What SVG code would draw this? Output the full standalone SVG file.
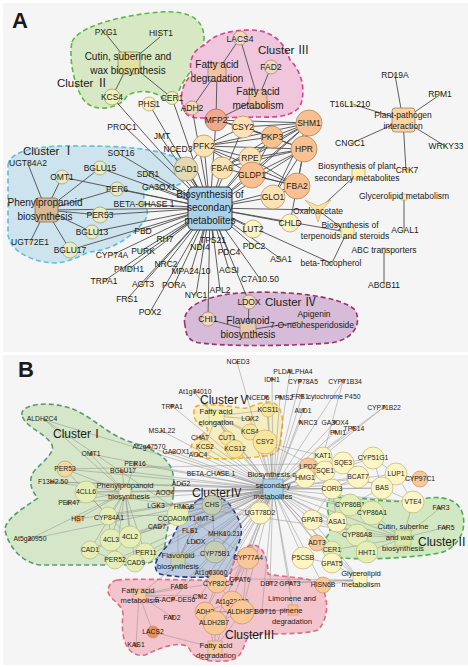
<svg xmlns="http://www.w3.org/2000/svg" width="468" height="667" viewBox="0 0 468 667">
<style>
text{font-family:"Liberation Sans",Arial,sans-serif;fill:#1a1a1a}
.a{font-size:8.5px;text-anchor:middle}
.ap{font-size:10px;text-anchor:middle}
.b{font-size:6.8px;text-anchor:middle}
.bp{font-size:7.6px;text-anchor:middle}
.cl{font-size:11.5px}
.cb{font-size:12px}
.rn{font-family:"Noto Sans CJK SC","Liberation Serif",serif}
.pl{font-size:22px;font-weight:bold}
.ea{stroke:#4d4d4d;stroke-width:.9;fill:none}
.eb{stroke:#8e8e8e;stroke-width:.5;fill:none}
.ny{fill:#f1f0b9;stroke:#9a9a66;stroke-width:.7}
.nly{fill:#fff3c2;stroke:#a89e60;stroke-width:.7}
.np{fill:#fde2b3;stroke:#a88f5e;stroke-width:.7}
.no{fill:#f8c18f;stroke:#a87e50;stroke-width:.7}
.nm{fill:#f0a98e;stroke:#a06a50;stroke-width:.7}
.nt{fill:#e3d9b2;stroke:#9a9070;stroke-width:.7}
.ns{fill:#f6d7bd;stroke:#a08060;stroke-width:.7}
.nb{fill:#e8ebc3;stroke:#9a9a70;stroke-width:.7}
.d{fill:#e8d24a}
.by{fill:#fdf5c4;stroke:#b4a866;stroke-width:.6}
.bg{fill:#e5eeb6;stroke:#a8b478;stroke-width:.6}
.bo{fill:#f8c899;stroke:#c08a58;stroke-width:.6}
.bk{fill:#f6e6a0;stroke:#c8a450;stroke-width:.6}
.bv{fill:#c6cdb5;stroke:#8a9078;stroke-width:.6}
.do{fill:#d9702e}
.dash{stroke-width:1.6;stroke-dasharray:5 3}
</style>
<rect x="3" y="3" width="465" height="349" fill="#f5f5f5"/>
<rect x="3" y="355" width="465" height="310" fill="#f5f5f5"/>
<g id="clusters-a">
<path class="dash" fill="#d7e8c5" stroke="#5fb848" d="M72,42 C78,28 110,18 150,13 C180,9 204,14 204,38 C204,58 188,72 180,88 C176,100 168,104 160,96 C150,90 135,90 127,96 C120,108 100,112 88,104 C76,96 68,60 72,42 Z"/>
<path class="dash" fill="#f0c6dc" stroke="#e0408c" d="M185,112 C178,100 182,82 192,75 C188,62 192,50 205,45 C212,35 230,30 250,30 C275,30 285,45 290,60 C300,70 305,85 302,100 C300,115 280,118 260,117 L200,118 C192,118 187,116 185,112 Z"/>
<path class="dash" fill="#cde3ee" stroke="#5bc0de" d="M8,165 C10,150 40,145 80,146 C120,146 160,148 180,160 C190,168 188,180 178,185 C165,188 150,182 145,192 C140,200 152,210 145,220 C130,240 110,250 90,252 C80,255 72,262 55,263 C30,262 10,250 8,235 Z"/>
<path class="dash" fill="#d6bcd8" stroke="#a0306e" d="M185,325 C180,305 210,295 240,293 C280,290 340,295 355,310 C362,322 355,340 330,343 C290,346 220,347 195,342 C186,338 186,332 185,325 Z"/>
</g>
<g id="clusters-b">
<path class="dash" fill="#d6e6c8" stroke="#5a9a78" d="M22,415 C20,405 45,400 70,408 C90,415 105,432 125,440 C145,447 165,452 172,470 C178,490 168,520 165,545 C162,560 150,565 130,565 L40,565 C20,562 8,545 5,530 C5,520 20,510 38,498 C30,490 28,478 35,470 C45,460 55,452 52,445 C45,432 25,428 22,415 Z"/>
<path class="dash" fill="#f6edc0" stroke="#f0b030" d="M195,407 C200,403 225,405 240,408 C250,410 255,402 270,402 C280,403 284,415 282,430 C280,445 282,455 265,456 C250,458 220,460 205,458 C190,455 188,447 195,440 C205,432 212,430 205,427 C195,425 192,415 195,407 Z"/>
<path class="dash" fill="#bccbe0" stroke="#1f3a8a" d="M198,500 C210,493 225,496 232,508 C240,520 245,530 238,545 C233,555 236,570 228,576 C210,578 175,578 160,574 C150,568 158,555 168,545 C175,535 180,515 198,500 Z"/>
<path class="dash" fill="#f4c4cc" stroke="#e06a88" d="M117,580 C140,578 200,581 230,580 C231,562 240,546 253,545 C264,546 268,560 268,574 C285,578 310,576 320,585 C330,598 328,620 318,630 C300,636 265,632 248,636 C242,650 242,660 225,661 C210,662 195,660 190,650 C186,640 165,645 145,655 C128,658 120,640 123,615 C124,605 110,600 108,592 C108,585 112,581 117,580 Z"/>
<path class="dash" fill="#d2e8c2" stroke="#4cb04c" d="M330,498 C360,495 390,505 415,500 C435,496 455,495 462,512 C468,530 458,548 440,553 C410,558 370,560 340,558 C325,556 320,545 328,535 C335,525 322,505 330,498 Z"/>
</g>
<g id="connectors">
<path class="ea" d="M210 208L149 104M210 208L172 98M210 208L112 97M210 208L192 108M210 208L125 127M210 208L160 136M210 208L175 149M210 208L118 153M210 208L146 174M210 208L158 187M210 208L140 204M210 208L143 231M210 208L165 239M210 208L141 251M210 208L112 255M210 208L129 269M210 208L104 281M210 208L143 284M210 208L127 299M210 208L150 312M210 208L166 264M210 208L174 285M210 208L191 271M210 208L196 295M210 208L220 290M210 208L229 270M210 208L229 252M210 208L200 247M210 208L213 240M210 208L254 246M210 208L281 259M210 208L260 279M210 208L249 302M210 208L208 319M210 208L253 229M210 208L290 223M210 208L273 197M210 208L297 186M210 208L252 175M210 208L250 158M210 208L222 168M210 208L186 169M210 208L204 146M210 208L243 127M210 208L272 137M210 208L309 123M210 208L304 149M210 208L216 120M210 208L318 210M210 208L347 232M210 208L331 263M210 208L46 210M210 208L62 177M210 208L100 168M210 208L117 189M210 208L100 215M210 208L92 232M210 208L70 250"/>
<path class="ea" d="M129 63L106 34M129 63L160 37M129 63L112 97M129 63L172 98M240 38L217 72M240 38L258 99M271 67L258 99M217 72L192 108M217 72L216 120M258 99L216 120M46 210L28 164M46 210L30 242M46 210L62 177M46 210L100 168M46 210L117 189M46 210L100 215M46 210L92 232M46 210L70 250M249 302L248 330M208 319L248 330M248 330L300 322"/>
<path class="ea" d="M204 146L243 127M204 146L272 137M204 146L309 123M204 146L250 158M204 146L252 175M204 146L297 186M204 146L304 149M243 127L309 123M243 127L272 137M243 127L304 149M272 137L309 123M272 137L304 149M272 137L252 175M309 123L304 149M309 123L252 175M309 123L297 186M304 149L252 175M304 149L297 186M304 149L250 158M250 158L297 186M250 158L309 123M252 175L297 186M273 197L304 149M273 197L309 123M273 197L297 186M222 168L309 123M222 168L304 149M222 168L272 137M222 168L297 186M216 120L272 137M216 120L243 127M216 120L309 123M186 169L204 146M290 223L297 186"/>
<path class="ea" d="M403 120L395 75M403 120L441 94M403 120L352 104M403 120L352 143M403 120L445 146M403 120L406 170M358 173L318 210M318 210L347 232M347 232L332 263M404 197L404 230M384 251L384 285"/>
<path class="eb" d="M273 489L216 416M273 489L268 410M273 489L250 419M273 489L250 432M273 489L265 442M273 489L227 438M273 489L235 449M273 489L205 447M273 489L200 437M273 489L195 393M273 489L198 455M273 489L237 362M273 489L290 371M273 489L272 379M273 489L300 381M273 489L343 381M273 489L266 397M273 489L280 397M273 489L302 396M273 489L303 410M273 489L300 422M273 489L335 422M273 489L335 432M273 489L353 428M273 489L384 407M273 489L172 406M273 489L162 431M273 489L149 447M273 489L173 452M273 489L45 420M273 489L91 454M273 489L65 469M273 489L135 464M273 489L122 471M273 489L52 482M273 489L86 492M273 489L125 492M273 489L68 503M273 489L78 519M273 489L108 516M273 489L30 539M273 489L111 540M273 489L130 537M273 489L90 550M273 489L145 553M273 489L115 560M273 489L135 563M273 489L220 473M273 489L182 484M273 489L170 492M273 489L158 506M273 489L184 507M273 489L178 515M273 489L198 519M273 489L160 527M273 489L212 505M273 489L192 531M273 489L224 534M273 489L196 542M273 489L215 552M273 489L178 560M273 489L210 572M273 489L248 558M273 489L181 586M273 489L217 583M273 489L236 579M273 489L270 583M273 489L290 583M273 489L173 599M273 489L200 596M273 489L139 595M273 489L205 612M273 489L232 602M273 489L215 623M273 489L242 612M273 489L262 611M273 489L293 610M273 489L323 456M273 489L308 467M273 489L305 478M273 489L325 471M273 489L343 463M273 489L373 458M273 489L358 477M273 489L396 474M273 489L420 479M273 489L382 488M273 489L332 489M273 489L413 502M273 489L350 505M273 489L372 513M273 489L357 535M273 489L337 522M273 489L312 520M273 489L317 543M273 489L332 550M273 489L367 552M273 489L403 538M273 489L332 563M273 489L360 580M273 489L323 585M273 489L303 558M273 489L260 513"/>
<path class="eb" d="M125 492L45 420M125 492L91 454M125 492L65 469M125 492L135 464M125 492L122 471M125 492L52 482M125 492L86 492M125 492L68 503M125 492L78 519M125 492L108 516M125 492L30 539M125 492L111 540M125 492L130 537M125 492L90 550M125 492L145 553M125 492L115 560M125 492L135 563M216 416L268 410M216 416L250 432M216 416L265 442M216 416L227 438M216 416L235 449M216 416L205 447M216 416L250 419M216 416L195 393M178 560L212 505M178 560L178 515M178 560L215 552M178 560L192 531M178 560L196 542M178 560L198 519M178 560L224 534M178 560L210 572M139 595L181 586M139 595L173 599M139 595L172 617M139 595L153 632M139 595L136 645M139 595L200 596M139 595L217 583M215 648L205 612M215 648L215 623M215 648L242 612M215 648L232 602M215 648L153 632M293 610L262 611M293 610L242 612M293 610L205 612M403 538L350 505M403 538L372 513M403 538L357 535M403 538L367 552M403 538L332 550M403 538L440 508M403 538L446 527M403 538L337 522M403 538L413 502M360 580L332 563M360 580L323 585M360 580L312 520M360 580L236 579M360 580L290 583M360 580L270 583M360 580L317 543"/>
<path class="eb" d="M323 456L325 471M325 471L343 463M343 463L373 458M373 458L396 474M396 474L382 488M382 488L358 477M358 477L343 463M382 488L373 458M325 471L305 478M305 478L308 467M308 467L323 456M332 489L325 471M332 489L382 488M332 489L358 477M396 474L420 479M413 502L396 474M413 502L382 488M350 505L382 488M372 513L396 474M350 505L332 489M337 522L332 489M312 520L332 489M312 520L337 522M337 522L357 535M332 550L332 563M317 543L332 563M303 558L332 563M260 513L212 505M265 442L323 456M265 442L325 471M384 407L323 456M343 381L323 456M248 558L217 583M217 583L205 612M205 612L215 623M215 623L242 612M242 612L232 602M232 602L217 583M205 612L242 612M205 612L232 602M248 558L236 579M248 558L242 612M111 540L130 537M111 540L90 550M130 537L145 553M115 560L135 563M135 563L145 553M108 516L111 540M108 516L130 537M86 492L108 516M65 469L108 516M90 550L115 560M178 515L130 537M178 515L108 516M178 515L212 505M212 505L215 552M65 469L343 463M52 482L332 489M86 492L403 538M45 420L248 558"/>
</g>
<text class="pl" x="12" y="28">A</text>
<text class="pl" x="18" y="377">B</text>
<g id="a-cluster-labels">
<text class="cl" x="57" y="87">Cluster <tspan class="rn">Ⅱ</tspan></text>
<text class="cl" x="258" y="54">Cluster <tspan class="rn">Ⅲ</tspan></text>
<text class="cl" x="23" y="155">Cluster <tspan class="rn">Ⅰ</tspan></text>
<text class="cl" x="265" y="306">Cluster <tspan class="rn">Ⅳ</tspan></text>
</g>
<g id="a-cutin"><rect x="118" y="52" width="22" height="22" rx="3" fill="#e3e1a1" stroke="#8a8a60" stroke-width=".8"/><text class="ap" x="128" y="60">Cutin, suberine and</text><text class="ap" x="128" y="74">wax biosynthesis</text></g>
<g id="a-pxg1"><circle class="d" cx="106" cy="32" r="1.8"/><text class="a" x="106" y="35">PXG1</text></g>
<g id="a-hist1"><circle class="d" cx="160" cy="33" r="1.8"/><text class="a" x="161" y="36">HIST1</text></g>
<g id="a-kcs4"><circle class="ny" cx="112" cy="97" r="8"/><text class="a" x="112" y="100">KCS4</text></g>
<g id="a-cer1"><circle class="ny" cx="172" cy="98" r="6.5"/><text class="a" x="172" y="101">CER1</text></g>
<g id="a-phs1"><circle class="nly" cx="149" cy="104" r="7"/><text class="a" x="149" y="107">PHS1</text></g>
<g id="a-fadeg"><rect x="208" y="63" width="18" height="18" rx="3" fill="#f3c4a4" stroke="#a0806a" stroke-width=".8"/><text class="ap" x="217" y="68">Fatty acid</text><text class="ap" x="217" y="82">degradation</text></g>
<g id="a-fameta"><rect x="249" y="90" width="18" height="18" rx="3" fill="#f3c4a4" stroke="#a0806a" stroke-width=".8"/><text class="ap" x="258" y="95">Fatty acid</text><text class="ap" x="258" y="109">metabolism</text></g>
<g id="a-lacs4"><circle class="ns" cx="240" cy="38" r="7"/><text class="a" x="240" y="42">LACS4</text></g>
<g id="a-fad2"><circle class="ns" cx="271" cy="67" r="7"/><text class="a" x="271" y="70">FAD2</text></g>
<g id="a-adh2"><circle class="ns" cx="192" cy="108" r="7"/><text class="a" x="192" y="111">ADH2</text></g>
<g id="a-mfp2"><circle class="nm" cx="216" cy="120" r="11"/><text class="a" x="216" y="123">MFP2</text></g>
<g id="a-csy2"><circle class="np" cx="243" cy="127" r="11"/><text class="a" x="243" y="130">CSY2</text></g>
<g id="a-pkp3"><circle class="no" cx="272" cy="137" r="11"/><text class="a" x="272" y="140">PKP3</text></g>
<g id="a-shm1"><circle class="no" cx="309" cy="123" r="13"/><text class="a" x="309" y="126">SHM1</text></g>
<g id="a-hpr"><circle class="no" cx="304" cy="149" r="13"/><text class="a" x="304" y="152">HPR</text></g>
<g id="a-pfk2"><circle class="np" cx="204" cy="146" r="11"/><text class="a" x="204" y="149">PFK2</text></g>
<g id="a-cad1"><circle class="nt" cx="186" cy="169" r="12"/><text class="a" x="186" y="172">CAD1</text></g>
<g id="a-fba6"><circle class="np" cx="222" cy="168" r="11"/><text class="a" x="222" y="171">FBA6</text></g>
<g id="a-rpe"><circle class="np" cx="250" cy="158" r="11"/><text class="a" x="250" y="161">RPE</text></g>
<g id="a-gldp1"><circle class="no" cx="252" cy="175" r="13"/><text class="a" x="252" y="178">GLDP1</text></g>
<g id="a-fba2"><circle class="no" cx="297" cy="186" r="13"/><text class="a" x="297" y="189">FBA2</text></g>
<g id="a-glo1"><circle class="np" cx="273" cy="197" r="12"/><text class="a" x="273" y="200">GLO1</text></g>
<g id="a-chld"><circle class="nly" cx="290" cy="223" r="9"/><text class="a" x="290" y="226">CHLD</text></g>
<g id="a-lut2"><circle class="nly" cx="253" cy="229" r="9"/><text class="a" x="253" y="232">LUT2</text></g>
<g id="a-hub"><rect x="188" y="187" width="44" height="43" rx="5" fill="#a9d1ea" stroke="#333" stroke-width="1"/><text class="ap" x="210" y="198">Biosynthesis of</text><text class="ap" x="210" y="211">secondary</text><text class="ap" x="210" y="224">metabolites</text></g>
<g id="a-pp"><rect x="35" y="198" width="23" height="24" rx="3" fill="#d9b994" stroke="#8a7050" stroke-width=".8"/><text class="ap" x="45" y="206">Phenylpropanoid</text><text class="ap" x="45" y="220">biosynthesis</text></g>
<g id="a-ugt84a2"><circle class="d" cx="28" cy="163" r="1.8"/><text class="a" x="28" y="166">UGT84A2</text></g>
<g id="a-ugt72e1"><circle class="d" cx="30" cy="242" r="1.8"/><text class="a" x="30" y="245">UGT72E1</text></g>
<g id="a-omt1"><circle class="nb" cx="62" cy="177" r="7"/><text class="a" x="62" y="180">OMT1</text></g>
<g id="a-bglu15"><circle class="nb" cx="100" cy="168" r="7"/><text class="a" x="100" y="171">BGLU15</text></g>
<g id="a-per6"><circle class="nb" cx="117" cy="189" r="7"/><text class="a" x="117" y="192">PER6</text></g>
<g id="a-per53"><circle class="nb" cx="100" cy="215" r="8"/><text class="a" x="100" y="218">PER53</text></g>
<g id="a-bglu13"><circle class="nb" cx="92" cy="232" r="7"/><text class="a" x="92" y="235">BGLU13</text></g>
<g id="a-bglu17"><circle class="nb" cx="70" cy="250" r="8"/><text class="a" x="70" y="253">BGLU17</text></g>
<g id="a-genes">
<circle class="d" cx="125" cy="127" r="1.8"/><text class="a" x="122" y="130">PROC1</text>
<circle class="d" cx="160" cy="136" r="1.8"/><text class="a" x="162" y="139">JMT</text>
<circle class="d" cx="175" cy="149" r="1.8"/><text class="a" x="178" y="152">NCED3</text>
<circle class="d" cx="118" cy="153" r="1.8"/><text class="a" x="121" y="156">SOT16</text>
<circle class="d" cx="146" cy="174" r="1.8"/><text class="a" x="148" y="177">SDR1</text>
<circle class="d" cx="158" cy="187" r="1.8"/><text class="a" x="159" y="190">GA3OX1</text>
<circle class="d" cx="140" cy="204" r="1.8"/><text class="a" x="144" y="207">BETA-CHASE 1</text>
<circle class="d" cx="143" cy="231" r="1.8"/><text class="a" x="143" y="234">PBD</text>
<circle class="d" cx="165" cy="239" r="1.8"/><text class="a" x="165" y="242">RH7</text>
<circle class="d" cx="141" cy="251" r="1.8"/><text class="a" x="143" y="254">PURK</text>
<circle class="d" cx="112" cy="255" r="1.8"/><text class="a" x="112" y="258">CYP74A</text>
<circle class="d" cx="129" cy="269" r="1.8"/><text class="a" x="129" y="272">PMDH1</text>
<circle class="d" cx="104" cy="281" r="1.8"/><text class="a" x="104" y="284">TRPA1</text>
<circle class="d" cx="143" cy="284" r="1.8"/><text class="a" x="143" y="287">AGT3</text>
<circle class="d" cx="127" cy="299" r="1.8"/><text class="a" x="127" y="302">FRS1</text>
<circle class="d" cx="150" cy="312" r="1.8"/><text class="a" x="150" y="315">POX2</text>
<circle class="d" cx="166" cy="264" r="1.8"/><text class="a" x="166" y="267">NRC2</text>
<circle class="d" cx="174" cy="285" r="1.8"/><text class="a" x="174" y="288">PORA</text>
<circle class="d" cx="191" cy="271" r="1.8"/><text class="a" x="191" y="274">MPA24.10</text>
<circle class="d" cx="196" cy="295" r="1.8"/><text class="a" x="196" y="298">NYC1</text>
<circle class="d" cx="220" cy="290" r="1.8"/><text class="a" x="220" y="293">APL2</text>
<circle class="d" cx="229" cy="270" r="1.8"/><text class="a" x="229" y="273">ACSI</text>
<circle class="d" cx="229" cy="252" r="1.8"/><text class="a" x="229" y="255">PDC4</text>
<circle class="d" cx="200" cy="247" r="1.8"/><text class="a" x="200" y="250">NDI4</text>
<circle class="d" cx="213" cy="240" r="1.8"/><text class="a" x="213" y="243">TPS21</text>
<circle class="d" cx="254" cy="246" r="1.8"/><text class="a" x="254" y="249">PDC2</text>
<circle class="d" cx="281" cy="259" r="1.8"/><text class="a" x="281" y="262">ASA1</text>
<circle class="d" cx="260" cy="279" r="1.8"/><text class="a" x="260" y="282">C7A10.50</text>
</g>
<g id="a-flav"><rect x="240" y="322" width="16" height="16" rx="2" fill="#e9c9b1" stroke="#9a7a64" stroke-width=".8"/><text class="ap" x="248" y="324">Flavonoid</text><text class="ap" x="248" y="338">biosynthesis</text></g>
<g id="a-ldox"><circle class="ns" cx="249" cy="302" r="7"/><text class="a" x="249" y="305">LDOX</text></g>
<g id="a-chi1"><circle class="ns" cx="208" cy="319" r="7"/><text class="a" x="208" y="322">CHI1</text></g>
<g id="a-apigenin"><circle class="d" cx="300" cy="322" r="1.8"/><text class="a" x="314" y="317">Apigenin</text><text class="a" x="312" y="328">7-O-neohesperidoside</text></g>
<g id="a-ppi"><rect x="392" y="108" width="23" height="24" rx="3" fill="#f8d3a3" stroke="#9a8060" stroke-width=".8"/><text class="a" x="403" y="118">Plant-pathogen</text><text class="a" x="403" y="129">interaction</text></g>
<g id="a-rd19a"><circle class="d" cx="395" cy="75" r="1.8"/><text class="a" x="395" y="78">RD19A</text></g>
<g id="a-rpm1"><circle class="d" cx="441" cy="94" r="1.8"/><text class="a" x="440" y="97">RPM1</text></g>
<g id="a-t16l1"><circle class="d" cx="352" cy="104" r="1.8"/><text class="a" x="350" y="107">T16L1.210</text></g>
<g id="a-cngc1"><circle class="d" cx="352" cy="143" r="1.8"/><text class="a" x="350" y="146">CNGC1</text></g>
<g id="a-wrky33"><circle class="d" cx="445" cy="146" r="1.8"/><text class="a" x="446" y="149">WRKY33</text></g>
<g id="a-crk7"><circle class="d" cx="406" cy="170" r="1.8"/><text class="a" x="407" y="173">CRK7</text></g>
<g id="a-bpsm"><rect x="352" y="168" width="13" height="11" rx="2" fill="#fff0b0" stroke="#a89a60" stroke-width=".6"/><text class="a" x="357" y="169">Biosynthesis of plant</text><text class="a" x="357" y="181">secondary metabolites</text></g>
<g id="a-oxa"><polygon points="305,200 318,206 331,200 322,210 318,222 314,210" fill="#f8e3a0" stroke="#c0a060" stroke-width=".6"/><text class="a" x="318" y="214">Oxaloacetate</text></g>
<g id="a-terp"><rect x="341" y="227" width="13" height="11" rx="2" fill="#fff0b0" stroke="#a89a60" stroke-width=".6"/><text class="a" x="350" y="228">Biosynthesis of</text><text class="a" x="345" y="239">terpenoids and steroids</text></g>
<g id="a-toco"><circle class="d" cx="332" cy="263" r="1.8"/><text class="a" x="331" y="266">beta-Tocopherol</text></g>
<g id="a-glycero"><rect x="401" y="194" width="6" height="6" fill="#fff0a0" stroke="#a89a60" stroke-width=".5"/><text class="a" x="404" y="199">Glycerolipid metabolism</text></g>
<g id="a-agal1"><circle class="d" cx="404" cy="230" r="1.8"/><text class="a" x="405" y="233">AGAL1</text></g>
<g id="a-abc"><rect x="381" y="248" width="5" height="5" fill="#fff0a0" stroke="#a89a60" stroke-width=".5"/><text class="a" x="384" y="253">ABC transporters</text></g>
<g id="a-abcb11"><circle class="d" cx="384" cy="285" r="1.8"/><text class="a" x="384" y="288">ABCB11</text></g>

<g id="b-cluster-labels">
<text class="cb" x="53" y="438">Cluster<tspan class="rn">Ⅰ</tspan></text>
<text class="cb" x="200" y="404">Cluster<tspan class="rn">Ⅴ</tspan></text>
<text class="cb" x="192" y="497">Cluster<tspan class="rn">Ⅳ</tspan></text>
<text class="cb" x="225" y="639">Cluster<tspan class="rn">Ⅲ</tspan></text>
<text class="cb" x="418" y="546">Cluster<tspan class="rn">Ⅱ</tspan></text>
</g>
<g id="b-hub"><rect x="263" y="479" width="20" height="20" fill="#a9d1ea" stroke="#6a8aa0" stroke-width=".6"/><text class="bp" x="273" y="477">Biosynthesis of</text><text class="bp" x="273" y="488">secondary</text><text class="bp" x="273" y="499">metabolites</text></g>
<g id="b-pp"><rect x="119" y="486" width="12" height="12" fill="#e0e8c8" stroke="#9aa080" stroke-width=".5"/><text class="bp" x="125" y="488">Phenylpropanoid</text><text class="bp" x="129" y="499">biosynthesis</text></g>
<g id="b-fae"><rect x="209" y="410" width="15" height="12" fill="#f8f0b0" stroke="#c0b070" stroke-width=".5"/><text class="bp" x="216" y="414">Fatty acid</text><text class="bp" x="216" y="425">elongation</text></g>
<g id="b-flav"><rect x="171" y="553" width="14" height="14" fill="#c8d4b0" stroke="#8a9a78" stroke-width=".5"/><text class="bp" x="178" y="558">Flavonoid</text><text class="bp" x="178" y="569">biosynthesis</text></g>
<g id="b-fam"><rect x="133" y="589" width="13" height="12" fill="#f8c8a0" stroke="#c08a60" stroke-width=".5"/><text class="bp" x="138" y="593">Fatty acid</text><text class="bp" x="140" y="603">metabolism</text></g>
<g id="b-fad"><rect x="208" y="641" width="14" height="14" fill="#f8c8a0" stroke="#c08a60" stroke-width=".5"/><text class="bp" x="216" y="648">Fatty acid</text><text class="bp" x="216" y="658">degradation</text></g>
<g id="b-lim"><rect x="288" y="605" width="10" height="10" fill="#f8c090" stroke="#c08a60" stroke-width=".5"/><text class="bp" x="292" y="601">Limonene and</text><text class="bp" x="291" y="613">pinene</text><text class="bp" x="292" y="624">degradation</text></g>
<g id="b-cutin"><rect x="395" y="530" width="16" height="16" fill="#d8e8a8" stroke="#90a870" stroke-width=".5"/><text class="bp" x="403" y="529">Cutin, suberine</text><text class="bp" x="400" y="540">and wax</text><text class="bp" x="403" y="551">biosynthesis</text></g>
<g id="b-glycero"><rect x="353" y="573" width="14" height="14" fill="#fdf5c0" stroke="#b0a060" stroke-width=".5"/><text class="bp" x="361" y="576">Glycerolipid</text><text class="bp" x="361" y="587">metabolism</text></g>

<g id="b-circles">
<circle class="bo" cx="65" cy="469" r="8" style="fill:#f1d9a0"/><text class="b" x="65" y="471">PER53</text>
<circle class="bg" cx="86" cy="492" r="11"/><text class="b" x="86" y="494">4CLL6</text>
<circle class="bg" cx="108" cy="516" r="9"/><text class="b" x="109" y="520">CYP84A1</text>
<circle class="bg" cx="111" cy="540" r="11"/><text class="b" x="111" y="542">4CL3</text>
<circle class="bg" cx="130" cy="537" r="11"/><text class="b" x="130" y="539">4CL2</text>
<circle class="bg" cx="90" cy="550" r="9"/><text class="b" x="90" y="552">CAD1</text>
<circle class="bg" cx="145" cy="553" r="10"/><text class="b" x="146" y="555">PER11</text>
<circle class="bg" cx="115" cy="560" r="9"/><text class="b" x="115" y="562">PER52</text>
<circle class="bg" cx="135" cy="563" r="9"/><text class="b" x="136" y="565">CAD9</text>
<circle class="bk" cx="268" cy="410" r="7"/><text class="b" x="268" y="412">KCS11</text>
<circle class="bk" cx="250" cy="432" r="8"/><text class="b" x="250" y="434">KCS4</text>
<circle class="bk" cx="265" cy="442" r="12"/><text class="b" x="265" y="444">CSY2</text>
<circle class="bk" cx="227" cy="438" r="7"/><text class="b" x="227" y="440">CUT1</text>
<circle class="bk" cx="235" cy="449" r="9"/><text class="b" x="235" y="451">KCS12</text>
<circle class="bk" cx="205" cy="447" r="7"/><text class="b" x="205" y="449">KCS2</text>
<circle class="bv" cx="212" cy="505" r="10"/><text class="b" x="212" y="507">CHS</text>
<circle class="bg" cx="178" cy="515" r="11"/><text class="b" x="177" y="521">CCOAOMT1</text>
<circle class="bv" cx="215" cy="552" r="11"/><text class="b" x="215" y="556">CYP75B1</text>
<circle class="bo" cx="248" cy="558" r="11"/><text class="b" x="248" y="560">CYP77A4</text>
<circle class="bo" cx="217" cy="583" r="10"/><text class="b" x="218" y="586">CYP82C4</text>
<circle class="bo" cx="205" cy="612" r="10"/><text class="b" x="205" y="614">ADH2</text>
<circle class="bo" cx="232" cy="602" r="11"/><text class="b" x="232" y="604">At1g22430</text>
<circle class="bo" cx="215" cy="623" r="12"/><text class="b" x="214" y="625">ALDH2B7</text>
<circle class="bo" cx="242" cy="612" r="12"/><text class="b" x="242" y="614">ALDH3F1</text>
<circle class="bo" cx="153" cy="632" r="6" style="fill:#e8905a"/><text class="b" x="153" y="634">LACS2</text>
<circle class="by" cx="323" cy="456" r="9"/><text class="b" x="323" y="458">KAT1</text>
<circle class="bo" cx="308" cy="467" r="9"/><text class="b" x="308" y="469">LPD2</text>
<circle class="by" cx="305" cy="478" r="10"/><text class="b" x="305" y="480">HMG1</text>
<circle class="by" cx="325" cy="471" r="10"/><text class="b" x="325" y="473">SQE1</text>
<circle class="by" cx="343" cy="463" r="11"/><text class="b" x="343" y="465">SQE3</text>
<circle class="by" cx="373" cy="458" r="11"/><text class="b" x="373" y="460">CYP51G1</text>
<circle class="by" cx="358" cy="477" r="11"/><text class="b" x="358" y="479">BCAT7</text>
<circle class="by" cx="396" cy="474" r="11"/><text class="b" x="396" y="476">LUP1</text>
<circle class="bo" cx="420" cy="479" r="8"/><text class="b" x="420" y="481">CYP97C1</text>
<circle class="by" cx="382" cy="488" r="11"/><text class="b" x="382" y="490">BAS</text>
<circle class="by" cx="332" cy="489" r="10"/><text class="b" x="332" y="491">CORI3</text>
<circle class="by" cx="413" cy="502" r="11"/><text class="b" x="413" y="504">VTE4</text>
<circle class="bg" cx="350" cy="505" r="11"/><text class="b" x="350" y="507">CYP86B1</text>
<circle class="bg" cx="372" cy="513" r="12"/><text class="b" x="372" y="515">CYP86A1</text>
<circle class="bg" cx="357" cy="535" r="11"/><text class="b" x="357" y="537">CYP86A8</text>
<circle class="by" cx="337" cy="522" r="10"/><text class="b" x="337" y="524">ASA1</text>
<circle class="by" cx="312" cy="520" r="10"/><text class="b" x="312" y="522">GPAT8</text>
<circle class="bo" cx="317" cy="543" r="8"/><text class="b" x="317" y="545">ADT3</text>
<circle class="bg" cx="332" cy="550" r="9"/><text class="b" x="332" y="552">CER1</text>
<circle class="bg" cx="367" cy="552" r="11"/><text class="b" x="367" y="555">HHT1</text>
<circle class="by" cx="332" cy="563" r="10"/><text class="b" x="332" y="566">GPAT5</text>
<circle class="bo" cx="323" cy="585" r="8"/><text class="b" x="323" y="587">HISN6B</text>
<circle class="by" cx="303" cy="558" r="11"/><text class="b" x="303" y="560">P5CSB</text>
<circle class="by" cx="260" cy="513" r="11"/><text class="b" x="260" y="515">UGT78D2</text>
</g>
<g id="b-genes">
<circle class="do" cx="45" cy="420" r="1.6"/><text class="b" x="42" y="421">ALDH2C4</text>
<circle class="do" cx="91" cy="454" r="2"/><text class="b" x="91" y="456">OMT1</text>
<circle class="do" cx="135" cy="464" r="2"/><text class="b" x="135" y="466">PER16</text>
<circle class="do" cx="122" cy="471" r="2"/><text class="b" x="123" y="473">BGLU17</text>
<circle class="do" cx="52" cy="482" r="2"/><text class="b" x="53" y="484">F13H2.50</text>
<circle class="do" cx="68" cy="503" r="2"/><text class="b" x="69" y="505">PER47</text>
<circle cx="78" cy="519" r="4" fill="#f0b070"/><text class="b" x="78" y="521">HST</text>
<circle class="do" cx="30" cy="539" r="2"/><text class="b" x="30" y="541">At5g20950</text>
<circle class="do" cx="162" cy="431" r="1.6"/><text class="b" x="162" y="433">MSJ1.22</text>
<circle class="do" cx="149" cy="447" r="2"/><text class="b" x="149" y="449">At2g47570</text>
<circle class="do" cx="173" cy="452" r="1.6"/><text class="b" x="176" y="454">GA3OX1</text>
<circle class="do" cx="198" cy="455" r="1.6"/><text class="b" x="198" y="457">AOC4</text>
<circle class="do" cx="200" cy="437" r="1.6"/><text class="b" x="200" y="440">CHAT</text>
<circle class="do" cx="250" cy="419" r="1.6"/><text class="b" x="250" y="421">LOX2</text>
<circle class="do" cx="195" cy="392" r="2"/><text class="b" x="195" y="394">At1g74010</text>
<circle class="do" cx="172" cy="406" r="2"/><text class="b" x="172" y="409">TRPA1</text>
<circle class="do" cx="237" cy="362" r="1.6"/><text class="b" x="238" y="364">NCED3</text>
<circle class="do" cx="290" cy="371" r="2"/><text class="b" x="293" y="374">PLDALPHA4</text>
<circle class="do" cx="272" cy="379" r="2"/><text class="b" x="272" y="382">IDH1</text>
<circle class="do" cx="300" cy="381" r="2"/><text class="b" x="303" y="384">CYP78A5</text>
<circle class="do" cx="343" cy="381" r="2"/><text class="b" x="345" y="384">CYP71B34</text>
<circle class="do" cx="266" cy="397" r="2"/><text class="b" x="258" y="400">NCED6</text>
<circle class="do" cx="280" cy="397" r="2"/><text class="b" x="284" y="400">PMS2</text>
<circle class="do" cx="302" cy="396" r="2"/><text class="b" x="300" y="399">FRS1</text>
<text class="b" x="334" y="399">cytochrome P450</text>
<circle class="do" cx="303" cy="410" r="2"/><text class="b" x="303" y="413">ALD1</text>
<circle class="do" cx="300" cy="422" r="2"/><text class="b" x="308" y="425">NRC3</text>
<circle class="do" cx="335" cy="422" r="2"/><text class="b" x="335" y="425">GA3OX4</text>
<circle class="do" cx="335" cy="432" r="2"/><text class="b" x="338" y="435">PMI1</text>
<circle class="do" cx="353" cy="428" r="2"/><text class="b" x="354" y="431">TPS14</text>
<circle class="do" cx="384" cy="407" r="2"/><text class="b" x="384" y="410">CYP71B22</text>
<circle class="do" cx="220" cy="473" r="1.6"/><text class="b" x="211" y="476">BETA-CHASE 1</text>
<circle class="do" cx="182" cy="484" r="1.6"/><text class="b" x="181" y="486">ADG2</text>
<circle class="do" cx="170" cy="492" r="1.6"/><text class="b" x="165" y="495">AOC4</text>
<circle class="do" cx="158" cy="506" r="1.6"/><text class="b" x="156" y="508">LGK3</text>
<circle class="do" cx="184" cy="507" r="2"/><text class="b" x="184" y="509">HMGS</text>
<circle class="do" cx="198" cy="519" r="2"/><text class="b" x="206" y="521">IMT-1</text>
<circle class="do" cx="160" cy="527" r="1.6"/><text class="b" x="157" y="529">CAD7</text>
<circle class="do" cx="192" cy="531" r="2"/><text class="b" x="190" y="533">FLS1</text>
<circle class="do" cx="224" cy="534" r="2"/><text class="b" x="224" y="536">MHK10.21</text>
<circle class="do" cx="196" cy="542" r="2"/><text class="b" x="196" y="544">LDOX</text>
<circle class="do" cx="210" cy="572" r="2"/><text class="b" x="211" y="575">At1g03060</text>
<circle class="do" cx="181" cy="586" r="2.2"/><text class="b" x="179" y="589">FAD8</text>
<circle class="do" cx="236" cy="579" r="2"/><text class="b" x="240" y="582">GPAT6</text>
<circle class="do" cx="270" cy="583" r="2"/><text class="b" x="269" y="586">DBT2</text>
<circle class="do" cx="290" cy="583" r="2"/><text class="b" x="290" y="586">GPAT3</text>
<circle class="do" cx="173" cy="599" r="2.2"/><text class="b" x="175" y="602">S-ACP-DES6</text>
<circle class="do" cx="200" cy="596" r="1.6"/><text class="b" x="200" y="599">CM2</text>
<circle class="do" cx="172" cy="617" r="2.2"/><text class="b" x="172" y="620">FAD2</text>
<circle class="do" cx="136" cy="645" r="2.4"/><text class="b" x="136" y="647">KAS1</text>
<circle class="do" cx="262" cy="611" r="2"/><text class="b" x="265" y="614">SOT16</text>
<circle class="do" cx="440" cy="508" r="1.6"/><text class="b" x="441" y="510">FAR3</text>
<circle class="do" cx="446" cy="527" r="1.6"/><text class="b" x="446" y="530">FAR5</text>
</g>
</svg>
